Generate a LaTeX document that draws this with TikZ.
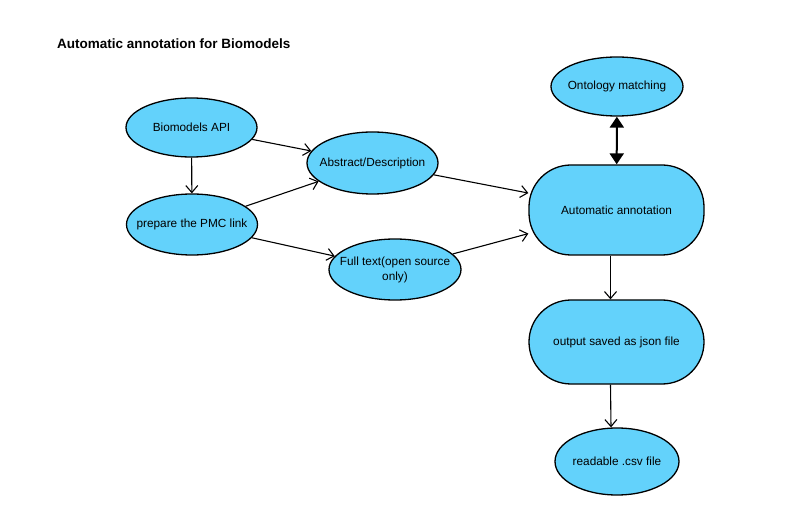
\documentclass[tikz,border=0pt]{standalone}
\usepackage{fontspec}
\setmainfont{Liberation Sans}
\usetikzlibrary{arrows.meta,shapes.geometric}
\definecolor{boxblue}{RGB}{99,210,251}

\begin{document}
\begin{tikzpicture}[x=1pt,y=-1pt,
    blob/.style={ellipse, draw=black, fill=boxblue, line width=1.3pt, inner xsep=-16pt, inner ysep=0pt, font=\fontsize{11.8}{15}\selectfont},
    pill/.style={rectangle, rounded corners=42pt, draw=black, fill=boxblue, line width=1.3pt, inner sep=0pt, font=\fontsize{11.8}{15}\selectfont},
    link/.style={-{Straight Barb[length=7pt,width=12pt]}, line width=1.1pt}]

        \useasboundingbox (0,0) rectangle (800,526);

        % Title
        \node[anchor=west, inner sep=0pt, font=\bfseries\fontsize{13.5}{16}\selectfont] (title) at (57,44) {Automatic annotation for Biomodels};

        % Left column
        \node[blob, minimum width=131pt, minimum height=59pt] (api) at (191.5,127.5) {Biomodels API};
        \node[blob, minimum width=131pt, minimum height=61pt] (pmc) at (192,224.5) {prepare the PMC link};

        % Middle column
        \node[blob, minimum width=131pt, minimum height=62pt] (abs) at (372.5,163) {Abstract/Description};
        \node[blob, minimum width=132pt, minimum height=61pt, align=center] (full) at (395,269.5) {Full text(open source\\only)};

        % Right column
        \node[blob, minimum width=132pt, minimum height=59pt] (onto) at (617,86.5) {Ontology matching};
        \node[pill, minimum width=175pt, minimum height=90pt] (auto) at (616.5,210) {Automatic annotation};
        \node[pill, minimum width=175pt, minimum height=84pt] (json) at (616.5,342) {output saved as json file};
        \node[blob, minimum width=124pt, minimum height=67pt] (csv) at (617,461.5) {readable .csv file};

        % Connections
        \draw[link] (api) -- (pmc);
        \draw[link] (api) -- (abs);
        \draw[link] (pmc) -- (abs);
        \draw[link] (pmc) -- (full);
        \draw[link] (abs) -- (auto);
        \draw[link] (full) -- (auto);
        \draw[{Triangle[length=11pt,width=14pt]}-{Triangle[length=11pt,width=14pt]}, line width=2pt] (onto) -- (auto);
        \draw[link] ([xshift=-6pt]auto.south) -- ([xshift=-6pt]json.north);
        \draw[link] ([xshift=-6pt]json.south) -- ([xshift=-6pt]csv.north);

\end{tikzpicture}
\end{document}
